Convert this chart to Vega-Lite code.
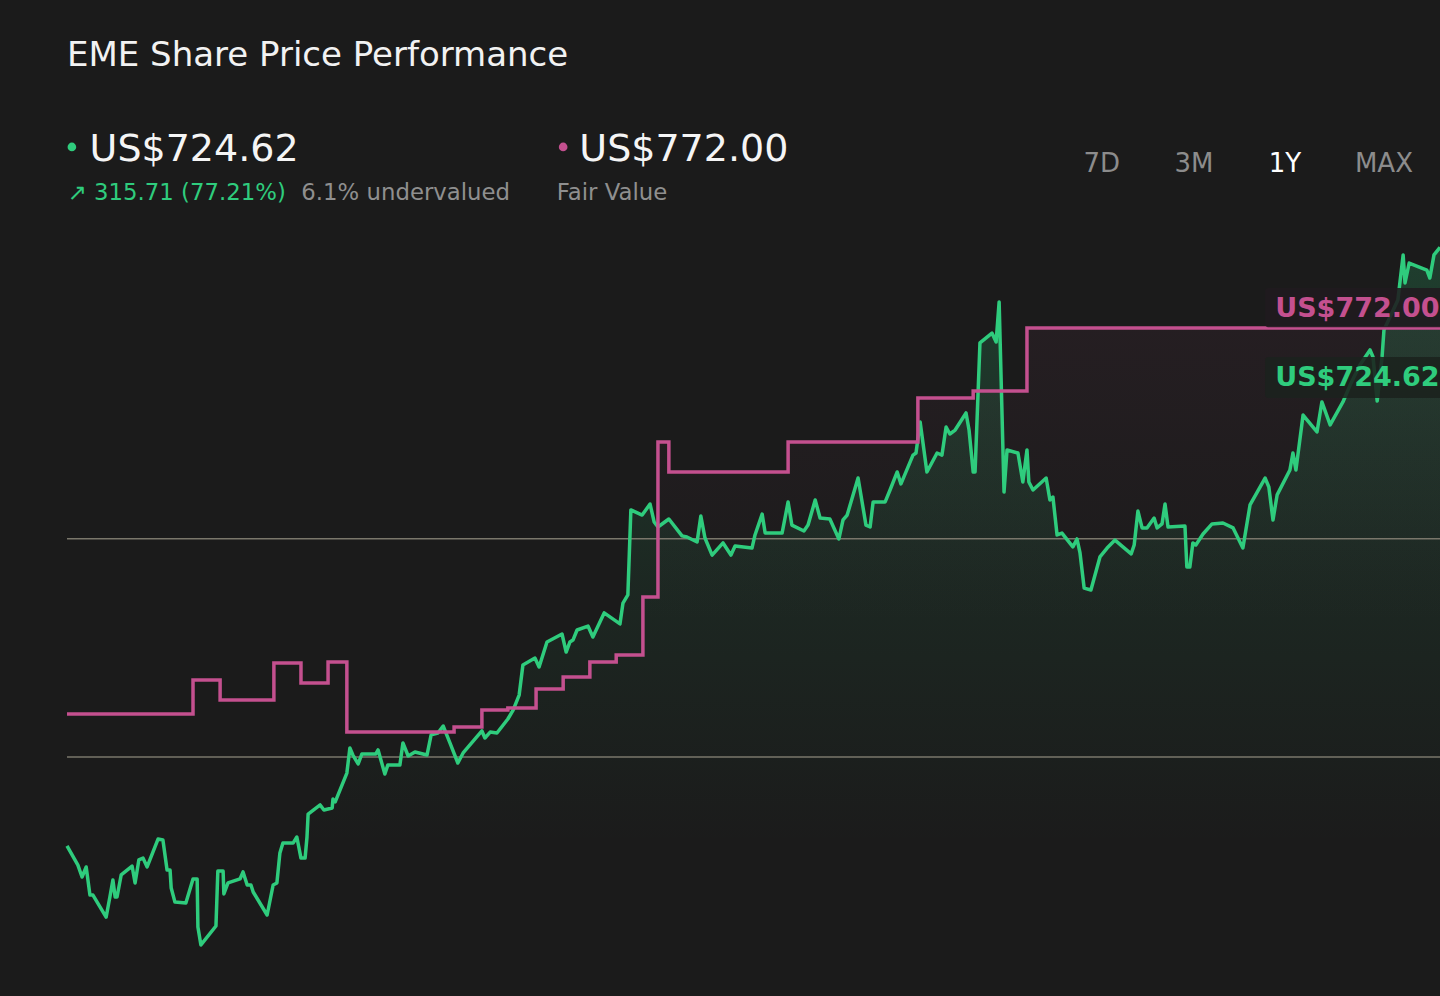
{
  "$schema": "https://vega.github.io/schema/vega-lite/v6.json",
  "width": 1373,
  "height": 776,
  "autosize": "none",
  "padding": {"left": 67, "top": 220, "right": 0, "bottom": 0},
  "background": "#1b1b1b",
  "config": {
    "view": {"stroke": null},
    "axis": {"disable": true},
    "text": {"font": "DejaVu Sans"}
  },
  "datasets": {
    "price": [
      {"day": 0, "price": 409.1}, {"day": 2.9, "price": 399.0}, {"day": 4.0, "price": 392.7}, {"day": 5.1, "price": 398.0},
      {"day": 6.1, "price": 383.2}, {"day": 6.9, "price": 383.2}, {"day": 10.4, "price": 371.6}, {"day": 11.4, "price": 382.2},
      {"day": 12.2, "price": 391.1}, {"day": 12.8, "price": 382.2}, {"day": 13.3, "price": 382.2}, {"day": 14.4, "price": 393.8},
      {"day": 17.3, "price": 398.5}, {"day": 18.1, "price": 389.6}, {"day": 19.1, "price": 401.7}, {"day": 20.2, "price": 402.7},
      {"day": 21.3, "price": 398.0}, {"day": 24.2, "price": 412.7}, {"day": 25.5, "price": 412.2}, {"day": 26.6, "price": 396.4},
      {"day": 27.4, "price": 396.4}, {"day": 27.7, "price": 386.9}, {"day": 28.7, "price": 379.5}, {"day": 31.6, "price": 379.0},
      {"day": 33.5, "price": 391.7}, {"day": 34.6, "price": 391.7}, {"day": 34.8, "price": 366.4}, {"day": 35.6, "price": 356.9},
      {"day": 39.6, "price": 366.9}, {"day": 40.1, "price": 395.9}, {"day": 41.5, "price": 395.9}, {"day": 41.7, "price": 383.8},
      {"day": 42.8, "price": 389.6}, {"day": 46.0, "price": 391.7}, {"day": 46.8, "price": 395.4}, {"day": 47.9, "price": 388.5},
      {"day": 48.9, "price": 388.5}, {"day": 49.5, "price": 384.8}, {"day": 53.2, "price": 372.7}, {"day": 54.8, "price": 388.5},
      {"day": 55.8, "price": 389.6}, {"day": 56.6, "price": 405.4}, {"day": 57.4, "price": 410.6}, {"day": 60.1, "price": 410.6},
      {"day": 61.1, "price": 413.8}, {"day": 62.2, "price": 402.7}, {"day": 63.3, "price": 402.7}, {"day": 63.8, "price": 413.8},
      {"day": 64.1, "price": 425.9}, {"day": 67.3, "price": 430.7}, {"day": 68.3, "price": 428.0}, {"day": 70.5, "price": 429.1},
      {"day": 70.7, "price": 433.8}, {"day": 71.3, "price": 432.3}, {"day": 74.4, "price": 447.5}, {"day": 75.2, "price": 460.7},
      {"day": 76.0, "price": 457.0}, {"day": 77.4, "price": 452.3}, {"day": 78.4, "price": 457.6}, {"day": 82.1, "price": 457.6},
      {"day": 82.7, "price": 459.7}, {"day": 84.5, "price": 447.0}, {"day": 85.3, "price": 451.8}, {"day": 88.5, "price": 451.8},
      {"day": 89.3, "price": 463.4}, {"day": 90.7, "price": 456.5}, {"day": 92.5, "price": 458.6}, {"day": 95.7, "price": 457.0},
      {"day": 96.8, "price": 467.6}, {"day": 98.6, "price": 468.6}, {"day": 100.0, "price": 472.3}, {"day": 101.8, "price": 463.4},
      {"day": 103.9, "price": 452.8}, {"day": 105.3, "price": 458.1}, {"day": 110.3, "price": 469.7}, {"day": 111.1, "price": 466.0},
      {"day": 112.5, "price": 469.1}, {"day": 114.3, "price": 468.6}, {"day": 117.2, "price": 476.0}, {"day": 118.6, "price": 480.7},
      {"day": 120.2, "price": 488.6}, {"day": 121.2, "price": 504.5}, {"day": 124.4, "price": 508.1}, {"day": 125.5, "price": 503.4},
      {"day": 127.6, "price": 516.6}, {"day": 131.6, "price": 520.8}, {"day": 132.7, "price": 511.3}, {"day": 133.7, "price": 516.6},
      {"day": 134.5, "price": 517.6}, {"day": 135.6, "price": 522.9}, {"day": 138.5, "price": 525.0}, {"day": 139.8, "price": 519.2},
      {"day": 142.8, "price": 531.9}, {"day": 147.0, "price": 526.1}, {"day": 147.8, "price": 537.1}, {"day": 149.1, "price": 541.4},
      {"day": 149.9, "price": 586.2}, {"day": 152.9, "price": 583.5}, {"day": 155.0, "price": 589.3}, {"day": 156.1, "price": 579.8},
      {"day": 157.1, "price": 577.2}, {"day": 160.0, "price": 581.4}, {"day": 163.5, "price": 572.5}, {"day": 164.8, "price": 571.9},
      {"day": 167.5, "price": 569.3}, {"day": 168.5, "price": 583.0}, {"day": 169.6, "price": 571.4}, {"day": 171.5, "price": 562.4},
      {"day": 174.4, "price": 568.8}, {"day": 176.5, "price": 562.4}, {"day": 177.6, "price": 567.2}, {"day": 182.1, "price": 566.1},
      {"day": 182.9, "price": 573.0}, {"day": 184.8, "price": 584.0}, {"day": 185.6, "price": 574.0}, {"day": 190.1, "price": 574.0},
      {"day": 191.7, "price": 590.4}, {"day": 192.7, "price": 578.2}, {"day": 195.9, "price": 575.1}, {"day": 197.0, "price": 578.2},
      {"day": 198.9, "price": 591.4}, {"day": 200.2, "price": 581.9}, {"day": 202.8, "price": 581.4}, {"day": 205.2, "price": 570.9},
      {"day": 206.3, "price": 580.9}, {"day": 207.4, "price": 583.5}, {"day": 210.3, "price": 603.0}, {"day": 212.4, "price": 578.2},
      {"day": 213.5, "price": 577.2}, {"day": 214.3, "price": 590.4}, {"day": 217.5, "price": 590.4}, {"day": 218.8, "price": 596.7},
      {"day": 220.7, "price": 606.2}, {"day": 221.7, "price": 599.9}, {"day": 224.9, "price": 615.1}, {"day": 225.7, "price": 616.2},
      {"day": 226.8, "price": 632.5}, {"day": 228.6, "price": 606.2}, {"day": 231.3, "price": 616.2}, {"day": 232.6, "price": 615.1},
      {"day": 233.7, "price": 629.9}, {"day": 234.7, "price": 626.2}, {"day": 236.1, "price": 628.3}, {"day": 239.0, "price": 637.3},
      {"day": 239.8, "price": 628.3}, {"day": 240.9, "price": 606.2}, {"day": 241.4, "price": 606.2}, {"day": 242.7, "price": 674.2},
      {"day": 245.9, "price": 679.4}, {"day": 247.0, "price": 674.7}, {"day": 247.8, "price": 695.8}, {"day": 249.1, "price": 595.6},
      {"day": 249.9, "price": 617.8}, {"day": 252.8, "price": 616.2}, {"day": 254.1, "price": 600.9}, {"day": 255.2, "price": 617.8},
      {"day": 255.7, "price": 600.9}, {"day": 256.8, "price": 596.7}, {"day": 260.3, "price": 603.0}, {"day": 261.3, "price": 591.4},
      {"day": 262.1, "price": 593.0}, {"day": 263.2, "price": 573.0}, {"day": 264.5, "price": 574.0}, {"day": 267.4, "price": 566.7},
      {"day": 268.5, "price": 570.9}, {"day": 269.3, "price": 563.5}, {"day": 270.4, "price": 545.0}, {"day": 272.2, "price": 544.0},
      {"day": 274.6, "price": 561.4}, {"day": 276.5, "price": 566.1}, {"day": 278.6, "price": 570.3}, {"day": 280.7, "price": 566.7},
      {"day": 282.9, "price": 563.0}, {"day": 283.7, "price": 567.7}, {"day": 284.7, "price": 585.6}, {"day": 285.8, "price": 576.7},
      {"day": 287.1, "price": 576.7}, {"day": 289.0, "price": 581.9}, {"day": 289.8, "price": 576.7}, {"day": 291.1, "price": 578.8},
      {"day": 291.9, "price": 589.3}, {"day": 292.7, "price": 577.2}, {"day": 297.2, "price": 577.7}, {"day": 297.7, "price": 556.1},
      {"day": 298.5, "price": 556.1}, {"day": 299.3, "price": 568.8}, {"day": 300.1, "price": 567.7}, {"day": 302.0, "price": 573.5},
      {"day": 304.4, "price": 578.8}, {"day": 307.3, "price": 579.3}, {"day": 310.0, "price": 576.7}, {"day": 312.6, "price": 566.1},
      {"day": 314.5, "price": 588.8}, {"day": 318.5, "price": 603.0}, {"day": 319.5, "price": 598.3}, {"day": 320.6, "price": 580.9},
      {"day": 321.7, "price": 594.1}, {"day": 325.1, "price": 607.2}, {"day": 325.9, "price": 616.2}, {"day": 326.7, "price": 607.2},
      {"day": 328.6, "price": 636.2}, {"day": 332.3, "price": 627.3}, {"day": 333.6, "price": 643.1}, {"day": 335.8, "price": 631.0},
      {"day": 339.2, "price": 643.1}, {"day": 341.1, "price": 652.0}, {"day": 343.7, "price": 662.6}, {"day": 346.4, "price": 670.5},
      {"day": 347.2, "price": 666.8}, {"day": 348.3, "price": 643.6}, {"day": 349.6, "price": 666.8}, {"day": 350.1, "price": 681.0},
      {"day": 353.8, "price": 696.8}, {"day": 355.2, "price": 720.6}, {"day": 355.7, "price": 705.8}, {"day": 356.8, "price": 716.3},
      {"day": 361.5, "price": 712.6}, {"day": 362.3, "price": 708.4}, {"day": 363.4, "price": 720.6}, {"day": 365.0, "price": 724.6}
    ],
    "fair": [
      {"day": 0, "fair": 478.6}, {"day": 33.5, "fair": 496.6}, {"day": 40.7, "fair": 486.0}, {"day": 55.0, "fair": 505.5},
      {"day": 62.2, "fair": 495.0}, {"day": 69.4, "fair": 506.0}, {"day": 74.4, "fair": 469.2}, {"day": 102.9, "fair": 471.8},
      {"day": 110.3, "fair": 480.7}, {"day": 117.2, "fair": 481.8}, {"day": 124.7, "fair": 491.8}, {"day": 131.9, "fair": 498.1},
      {"day": 139.0, "fair": 506.0}, {"day": 146.0, "fair": 509.7}, {"day": 153.1, "fair": 540.3}, {"day": 157.1, "fair": 622.0},
      {"day": 160.0, "fair": 606.2}, {"day": 191.7, "fair": 622.0}, {"day": 226.2, "fair": 645.2}, {"day": 240.9, "fair": 648.9},
      {"day": 255.2, "fair": 682.1}, {"day": 365.0, "fair": 682.1}
    ],
    "grid": [{"level": 571}, {"level": 456}]
  },
  "layer": [
    {
      "data": {"name": "fair"},
      "mark": {
        "type": "area",
        "interpolate": "step-after",
        "color": {
          "gradient": "linear", "x1": 0, "y1": 0, "x2": 0, "y2": 1,
          "stops": [
            {"offset": 0, "color": "rgba(196,80,143,0.06)"},
            {"offset": 0.45, "color": "rgba(196,80,143,0)"}
          ]
        }
      },
      "encoding": {
        "x": {"field": "day", "type": "quantitative", "axis": null, "scale": {"domain": [0, 365], "nice": false, "zero": false}},
        "y": {"field": "fair", "type": "quantitative", "axis": null, "scale": {"domain": [330, 739], "nice": false, "zero": false}},
        "y2": {"datum": 330}
      }
    },
    {
      "data": {"name": "price"},
      "mark": {
        "type": "area",
        "color": {
          "gradient": "linear", "x1": 0, "y1": 0, "x2": 0, "y2": 1,
          "stops": [
            {"offset": 0, "color": "rgba(47,204,125,0.2)"},
            {"offset": 0.45, "color": "rgba(47,204,125,0.07)"},
            {"offset": 0.8, "color": "rgba(47,204,125,0)"}
          ]
        }
      },
      "encoding": {
        "x": {"field": "day", "type": "quantitative", "axis": null},
        "y": {"field": "price", "type": "quantitative", "axis": null},
        "y2": {"datum": 330}
      }
    },
    {
      "data": {"name": "grid"},
      "mark": {"type": "rule", "color": "#7a776b", "strokeWidth": 1.5},
      "encoding": {
        "y": {"field": "level", "type": "quantitative", "axis": null}
      }
    },
    {
      "data": {"name": "price"},
      "mark": {"type": "line", "color": "#2fcc7d", "strokeWidth": 3.5, "strokeJoin": "round"},
      "encoding": {
        "x": {"field": "day", "type": "quantitative", "axis": null},
        "y": {"field": "price", "type": "quantitative", "axis": null}
      }
    },
    {
      "data": {"name": "fair"},
      "mark": {"type": "line", "interpolate": "step-after", "color": "#c4508f", "strokeWidth": 3.5},
      "encoding": {
        "x": {"field": "day", "type": "quantitative", "axis": null},
        "y": {"field": "fair", "type": "quantitative", "axis": null}
      }
    },
    {
      "data": {"values": [{}]},
      "mark": {"type": "rect", "fill": "#201a1f", "opacity": 0.88, "cornerRadius": 3},
      "encoding": {
        "x": {"datum": 318.5, "type": "quantitative", "axis": null},
        "x2": {"datum": 370},
        "y": {"datum": 703.2, "type": "quantitative", "axis": null},
        "y2": {"datum": 682.5}
      }
    },
    {
      "data": {"values": [{}]},
      "mark": {"type": "rect", "fill": "#1b221e", "opacity": 0.88, "cornerRadius": 3},
      "encoding": {
        "x": {"datum": 318.5, "type": "quantitative", "axis": null},
        "x2": {"datum": 370},
        "y": {"datum": 666.8, "type": "quantitative", "axis": null},
        "y2": {"datum": 645.2}
      }
    },
    {
      "data": {"values": [{"label": "US$772.00"}]},
      "mark": {"type": "text", "align": "left", "baseline": "alphabetic", "fontSize": 27, "fontWeight": "bold", "color": "#c4508f"},
      "encoding": {
        "x": {"datum": 321.2, "type": "quantitative", "axis": null},
        "y": {"datum": 687.9, "type": "quantitative", "axis": null},
        "text": {"field": "label"}
      }
    },
    {
      "data": {"values": [{"label": "US$724.62"}]},
      "mark": {"type": "text", "align": "left", "baseline": "alphabetic", "fontSize": 27, "fontWeight": "bold", "color": "#2fcc7d"},
      "encoding": {
        "x": {"datum": 321.2, "type": "quantitative", "axis": null},
        "y": {"datum": 651.5, "type": "quantitative", "axis": null},
        "text": {"field": "label"}
      }
    },
    {
      "data": {"values": [{"label": "EME Share Price Performance"}]},
      "mark": {"type": "text", "align": "left", "baseline": "alphabetic", "fontSize": 34, "color": "#f2f2f2"},
      "encoding": {
        "x": {"datum": 0, "type": "quantitative", "axis": null},
        "y": {"datum": 820.2, "type": "quantitative", "axis": null},
        "text": {"field": "label"}
      }
    },
    {
      "data": {"values": [{}]},
      "mark": {"type": "circle", "size": 75, "color": "#2fcc7d", "opacity": 1},
      "encoding": {
        "x": {"datum": 1.3, "type": "quantitative", "axis": null},
        "y": {"datum": 777.5, "type": "quantitative", "axis": null}
      }
    },
    {
      "data": {"values": [{"label": "US$724.62"}]},
      "mark": {"type": "text", "align": "left", "baseline": "alphabetic", "fontSize": 38, "color": "#f5f5f5"},
      "encoding": {
        "x": {"datum": 6.0, "type": "quantitative", "axis": null},
        "y": {"datum": 770.1, "type": "quantitative", "axis": null},
        "text": {"field": "label"}
      }
    },
    {
      "data": {"values": [{}]},
      "mark": {"type": "circle", "size": 75, "color": "#c4508f", "opacity": 1},
      "encoding": {
        "x": {"datum": 131.9, "type": "quantitative", "axis": null},
        "y": {"datum": 777.5, "type": "quantitative", "axis": null}
      }
    },
    {
      "data": {"values": [{"label": "US$772.00"}]},
      "mark": {"type": "text", "align": "left", "baseline": "alphabetic", "fontSize": 38, "color": "#f5f5f5"},
      "encoding": {
        "x": {"datum": 136.2, "type": "quantitative", "axis": null},
        "y": {"datum": 770.1, "type": "quantitative", "axis": null},
        "text": {"field": "label"}
      }
    },
    {
      "data": {"values": [{"label": "↗ 315.71 (77.21%)"}]},
      "mark": {"type": "text", "align": "left", "baseline": "alphabetic", "fontSize": 22.8, "color": "#2fcc7d"},
      "encoding": {
        "x": {"datum": 0.2, "type": "quantitative", "axis": null},
        "y": {"datum": 749.5, "type": "quantitative", "axis": null},
        "text": {"field": "label"}
      }
    },
    {
      "data": {"values": [{"label": "6.1% undervalued"}]},
      "mark": {"type": "text", "align": "left", "baseline": "alphabetic", "fontSize": 22.8, "color": "#8f8f8f"},
      "encoding": {
        "x": {"datum": 62.3, "type": "quantitative", "axis": null},
        "y": {"datum": 749.5, "type": "quantitative", "axis": null},
        "text": {"field": "label"}
      }
    },
    {
      "data": {"values": [{"label": "Fair Value"}]},
      "mark": {"type": "text", "align": "left", "baseline": "alphabetic", "fontSize": 22.8, "color": "#8f8f8f"},
      "encoding": {
        "x": {"datum": 130.2, "type": "quantitative", "axis": null},
        "y": {"datum": 749.5, "type": "quantitative", "axis": null},
        "text": {"field": "label"}
      }
    },
    {
      "data": {"values": [{"label": "7D"}]},
      "mark": {"type": "text", "align": "center", "baseline": "alphabetic", "fontSize": 26, "color": "#8c8c8c"},
      "encoding": {
        "x": {"datum": 275.1, "type": "quantitative", "axis": null},
        "y": {"datum": 764.3, "type": "quantitative", "axis": null},
        "text": {"field": "label"}
      }
    },
    {
      "data": {"values": [{"label": "3M"}]},
      "mark": {"type": "text", "align": "center", "baseline": "alphabetic", "fontSize": 26, "color": "#8c8c8c"},
      "encoding": {
        "x": {"datum": 299.6, "type": "quantitative", "axis": null},
        "y": {"datum": 764.3, "type": "quantitative", "axis": null},
        "text": {"field": "label"}
      }
    },
    {
      "data": {"values": [{"label": "1Y"}]},
      "mark": {"type": "text", "align": "center", "baseline": "alphabetic", "fontSize": 26, "color": "#ffffff"},
      "encoding": {
        "x": {"datum": 323.8, "type": "quantitative", "axis": null},
        "y": {"datum": 764.3, "type": "quantitative", "axis": null},
        "text": {"field": "label"}
      }
    },
    {
      "data": {"values": [{"label": "MAX"}]},
      "mark": {"type": "text", "align": "center", "baseline": "alphabetic", "fontSize": 26, "color": "#8c8c8c"},
      "encoding": {
        "x": {"datum": 350.1, "type": "quantitative", "axis": null},
        "y": {"datum": 764.3, "type": "quantitative", "axis": null},
        "text": {"field": "label"}
      }
    }
  ]
}
